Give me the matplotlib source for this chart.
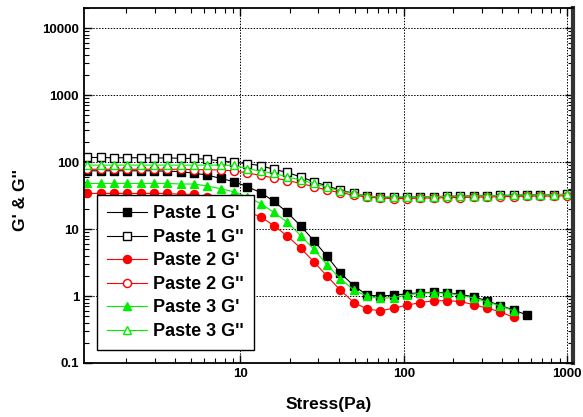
import numpy as np
import matplotlib
matplotlib.use('Agg')
import matplotlib.pyplot as plt
from matplotlib.ticker import LogLocator, FixedLocator, FuncFormatter, NullFormatter

plt.rcParams['font.family'] = ['Liberation Sans', 'DejaVu Sans']
plt.rcParams['font.weight'] = 'bold'

# stress (Pa)
stress = [1.155, 1.393, 1.681, 2.029, 2.448, 2.954, 3.565, 4.302, 5.191, 6.264,
          7.559, 9.12, 11.01, 13.28, 16.03, 19.34, 23.33, 28.16, 33.98, 41.0,
          49.47, 59.7, 72.0, 86.97, 104.9, 126.6, 152.8, 184.4, 222.5, 268.4,
          323.9, 390.8, 471.6, 569.0, 686.8, 828.7, 1000.0]

p1_g1 = [74, 74, 74, 74, 74, 74, 73, 72, 68, 64, 57, 51, 43, 35, 26, 17.7, 11.2, 6.7,
         3.9, 2.18, 1.43, 1.03, 1.0, 1.03, 1.08, 1.12, 1.14, 1.12, 1.06, 0.97, 0.85,
         0.72, 0.62, 0.52]
p1_g2 = [117, 117, 116, 116, 116, 115, 115, 114, 113, 110, 104, 99, 95, 88, 78, 70, 60,
         51, 44, 38, 34, 31, 30, 29.6, 30, 30.3, 30.5, 30.8, 31, 31.2, 31.4, 31.7, 32,
         32.2, 32.4, 32.6, 33]
p2_g1 = [34, 34, 34, 34, 34, 34, 34, 33, 33, 30, 26, 22, 18, 15.3, 11.2, 7.9, 5.2, 3.25,
         1.97, 1.22, 0.8, 0.64, 0.6, 0.66, 0.73, 0.8, 0.85, 0.85, 0.83, 0.74, 0.66,
         0.58, 0.48]
p2_g2 = [78, 78, 78, 78, 78, 78, 78, 78, 77, 77, 76, 74, 69, 63, 58, 53, 48, 43, 38, 35,
         32, 30, 29, 28.5, 28.5, 29, 29, 29.5, 29.5, 30, 30, 30.5, 30.5, 31, 31, 31,
         31.5]
p3_g1 = [48, 48, 48, 48, 48, 48, 48, 47, 47, 44, 40, 36, 30, 24, 17.7, 12.7, 8.0, 5.0,
         2.9, 1.8, 1.23, 0.99, 0.92, 0.95, 1.04, 1.1, 1.12, 1.1, 1.03, 0.93, 0.82,
         0.71, 0.6]
p3_g2 = [90, 90, 90, 90, 90, 90, 90, 90, 90, 90, 90, 89, 80, 73, 68, 60, 54, 48, 42, 37,
         34, 31, 30, 30, 30, 30.3, 30.5, 30.8, 31, 31.2, 31.4, 31.7, 32, 32.2, 32.4,
         32.6, 33]

labels = ["Paste 1 G'", "Paste 1 G''", "Paste 2 G'", "Paste 2 G''",
          "Paste 3 G'", "Paste 3 G''"]

fig = plt.figure(figsize=(5.83, 4.17), dpi=100)
ax = fig.add_axes([0.144, 0.1295, 0.839, 0.8515])

series = [
    (p1_g1, 'black', 's', 'black', 5.5),
    (p1_g2, 'black', 's', 'white', 5.5),
    (p2_g1, '#ff0000', 'o', '#ff0000', 5.8),
    (p2_g2, '#ff0000', 'o', 'white', 5.8),
    (p3_g1, '#00ee00', '^', '#00ee00', 6.0),
    (p3_g2, '#00ee00', '^', 'white', 6.0),
]
for (vals, col, mk, face, ms), lab in zip(series, labels):
    ax.plot(stress[:len(vals)], vals, color=col, lw=0.8, marker=mk, ms=ms,
            mfc=face, mec=col, mew=1.0, label=lab)

ax.set_xscale('log')
ax.set_yscale('log')
ax.set_xlim(1.1, 1090)
ax.set_ylim(0.1, 20000)

fmt = FuncFormatter(lambda v, p: ('%g' % v))
ax.xaxis.set_major_locator(FixedLocator([10, 100, 1000]))
ax.xaxis.set_major_formatter(fmt)
ax.xaxis.set_minor_locator(LogLocator(base=10, subs=np.arange(2, 10), numticks=20))
ax.xaxis.set_minor_formatter(NullFormatter())
ax.yaxis.set_major_locator(FixedLocator([0.1, 1, 10, 100, 1000, 10000]))
ax.yaxis.set_major_formatter(fmt)
ax.yaxis.set_minor_locator(LogLocator(base=10, subs=np.arange(2, 10), numticks=20))
ax.yaxis.set_minor_formatter(NullFormatter())

ax.tick_params(which='both', direction='in', top=True, right=True, labelsize=9.5)
ax.tick_params(which='major', length=6, width=1)
ax.tick_params(which='minor', length=3.5, width=0.8)
for lab in ax.get_xticklabels() + ax.get_yticklabels():
    lab.set_fontweight('bold')

ax.grid(True, which='major', color='black', ls=(0, (1.5, 1.5)), lw=0.7)
for s in ['left', 'bottom', 'top']:
    ax.spines[s].set_linewidth(1.3)
ax.spines['right'].set_linewidth(3)
ax.spines['right'].set_color('#333333')

ax.set_xlabel('Stress(Pa)', fontsize=12.5, fontweight='bold', labelpad=12)
ax.set_ylabel("G' & G''", fontsize=12.5, fontweight='bold')
ax.yaxis.set_label_coords(-0.115, 0.46)

leg = ax.legend(loc='lower left', bbox_to_anchor=(0.027, 0.037),
                prop={'weight': 'bold', 'size': 13}, frameon=True, fancybox=False,
                framealpha=1, edgecolor='black', handlelength=2.2,
                labelspacing=0.36, borderpad=0.55, handletextpad=0.35,
                borderaxespad=0)
leg.get_frame().set_linewidth(1.0)

fig.savefig('out.png', dpi=100)
